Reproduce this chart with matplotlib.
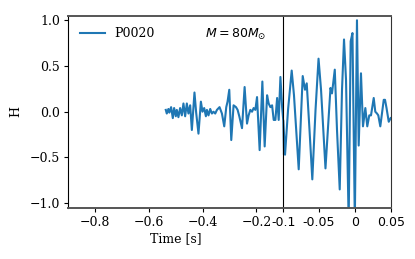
import numpy as np
import matplotlib
matplotlib.use('Agg')
import matplotlib.pyplot as plt

plt.rcParams['font.family'] = 'serif'
plt.rcParams['font.size'] = 9

# waveform samples (time [s], strain H)
t = [-0.5373, -0.5336, -0.5276, -0.5239, -0.5175, -0.5112, -0.5063, -0.5000,
     -0.4963, -0.4903, -0.4840, -0.4776, -0.4716, -0.4653, -0.4590, -0.4530,
     -0.4466, -0.4403, -0.4306, -0.4243, -0.4157, -0.4067, -0.4007, -0.3944,
     -0.3881, -0.3843, -0.3784, -0.3720, -0.3657, -0.3597, -0.3534, -0.3470,
     -0.3373, -0.3284, -0.3198, -0.3123, -0.3075, -0.3011, -0.2937, -0.2851,
     -0.2761, -0.2701, -0.2638, -0.2537, -0.2440, -0.2351, -0.2291, -0.2228,
     -0.2164, -0.2104, -0.2041, -0.1978, -0.1881, -0.1780, -0.1694, -0.1604,
     -0.1545, -0.1481, -0.1418, -0.1358, -0.1295, -0.1231, -0.1172, -0.1108,
     -0.1045, -0.1000, -0.0976, -0.0934, -0.0883, -0.0851, -0.0785, -0.0729,
     -0.0697, -0.0673, -0.0634, -0.0595, -0.0550, -0.0508, -0.0473, -0.0411,
     -0.0369, -0.0341, -0.0320, -0.0281, -0.0250, -0.0212, -0.0180, -0.0152,
     -0.0124, -0.0087, -0.0059, -0.0034, -0.0001, 0.0029, 0.0053, 0.0085,
     0.0113, 0.0146, 0.0173, 0.0201, 0.0225, 0.0263, 0.0285, 0.0309,
     0.0327, 0.0355, 0.0403, 0.0421, 0.0442, 0.0473, 0.0500]
h = [0.02, -0.02, 0.03, -0.01, 0.05, -0.07, 0.04, -0.05,
     0.02, -0.06, 0.04, -0.04, 0.09, -0.05, 0.09, -0.02,
     0.07, -0.20, 0.21, -0.01, -0.24, 0.11, 0.00, 0.04,
     -0.05, 0.02, -0.04, 0.03, -0.02, 0.00, -0.02, 0.02,
     0.05, -0.02, -0.16, 0.05, 0.11, 0.24, -0.31, 0.07,
     0.05, 0.02, -0.05, -0.18, 0.27, -0.13, -0.04, 0.02,
     0.00, 0.04, 0.02, 0.16, -0.42, 0.33, -0.38, 0.18,
     0.09, 0.05, 0.07, -0.09, -0.09, 0.15, -0.09, 0.38,
     0.05, -0.10, -0.47, 0.02, 0.45, 0.18, -0.63, 0.39,
     0.24, 0.31, -0.20, -0.74, 0.02, 0.58, 0.24, -0.62,
     -0.09, 0.26, 0.20, 0.46, -0.20, -0.85, 0.24, 0.79,
     0.35, -1.20, 0.77, 0.86, -1.20, 1.00, -0.37, 0.42,
     -0.16, 0.04, -0.16, -0.04, -0.04, 0.15, 0.00, -0.02,
     -0.04, -0.16, 0.13, 0.13, 0.04, -0.11, -0.07]

left_ticks = [-0.8, -0.6, -0.4, -0.2]
right_ticks = [-0.1, -0.05, 0, 0.05]
right_labels = ['-0.1', '-0.05', '0', '0.05']

fig = plt.figure(figsize=(4.15, 2.59), dpi=100)
ax1 = fig.add_axes([0.1646, 0.198, 0.5181, 0.7414])
ax2 = fig.add_axes([0.6827, 0.198, 0.2587, 0.7414])

for ax in (ax1, ax2):
    ax.plot(t, h, color='#1f77b4', lw=1.5, label='P0020')
    ax.set_ylim(-1.05, 1.05)
    ax.spines['top'].set_color('#555555')
    ax.spines['top'].set_linewidth(1.4)
    ax.spines['bottom'].set_color('#555555')
    ax.spines['bottom'].set_linewidth(1.4)
    ax.tick_params(length=3, pad=3)

ax1.set_xlim(-0.9, -0.1)
ax1.set_xticks(left_ticks)
ax1.set_yticks([-1.0, -0.5, 0.0, 0.5, 1.0])
ax1.spines['right'].set_visible(False)
ax1.set_xlabel('Time [s]', labelpad=2)
ax1.set_ylabel('H', labelpad=5)
ax1.legend(loc='upper left', frameon=False, handlelength=2.0)
ax1.text(-0.279, 0.85, r'$M = 80M_{\odot}$', ha='center', va='center')

ax2.set_xlim(-0.1, 0.05)
ax2.set_xticks(right_ticks)
ax2.set_xticklabels(right_labels, family='DejaVu Sans')
ax2.set_yticks([])
ax2.spines['left'].set_color('black')
ax2.spines['right'].set_color('#333333')

fig.savefig('out.png', dpi=100)
